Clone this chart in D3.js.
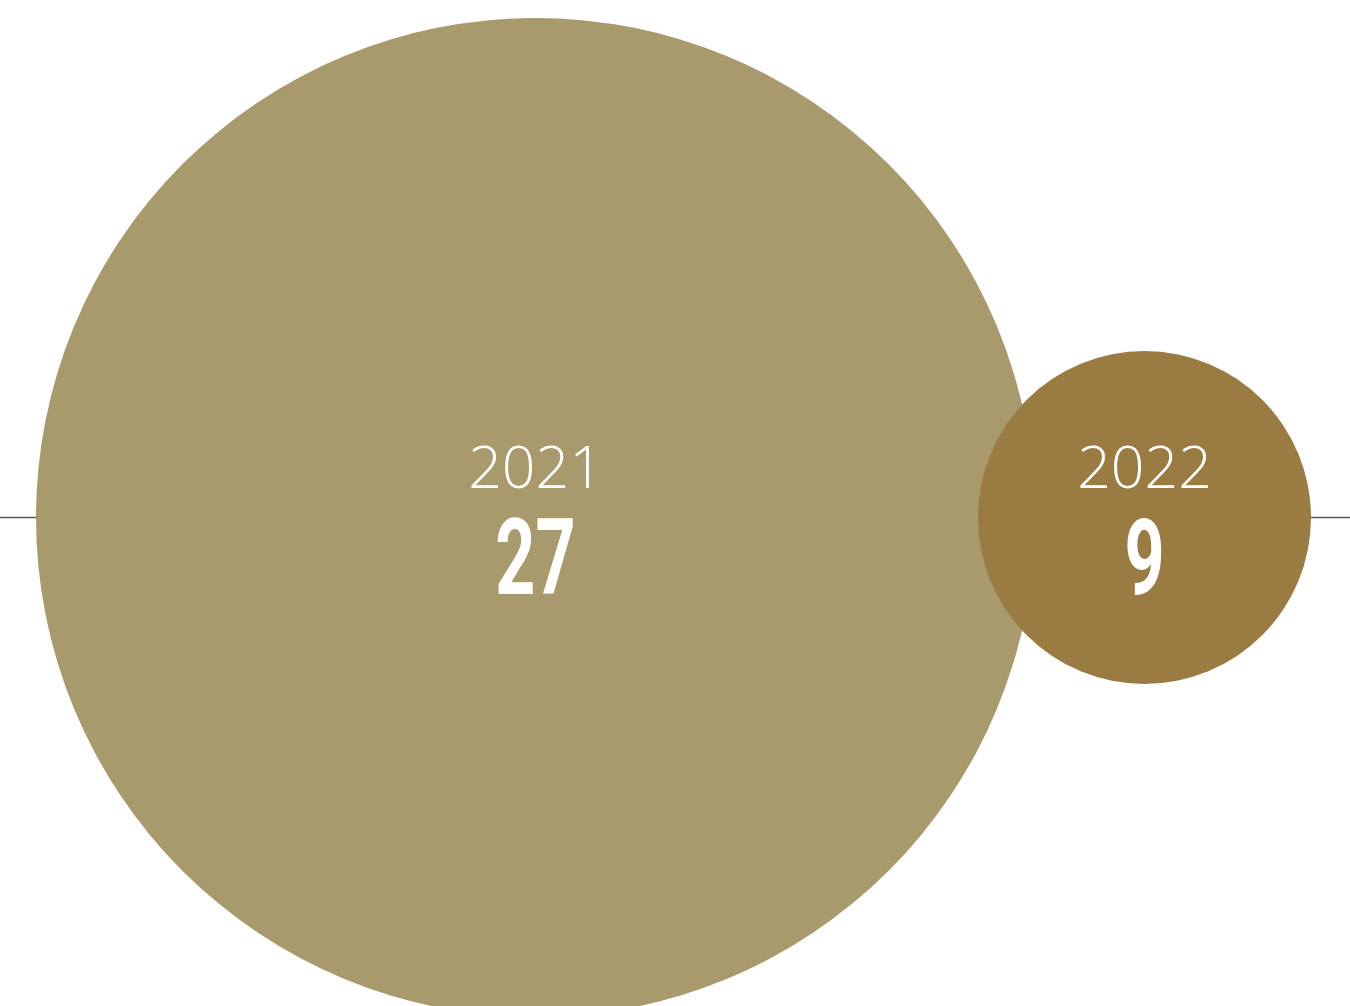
<!DOCTYPE html>
<html><head><meta charset="utf-8">
<script src="https://cdn.jsdelivr.net/npm/d3@7"></script>
<style>html,body{margin:0;padding:0;background:#fff;overflow:hidden}</style>
</head><body>
<svg id="chart" width="1350" height="1006"></svg>
<script>
const years = ["2021", "2022"];
const values = [27, 9];
const colors = ["#A99A6E", "#9A7B42"];

const W = 1350, H = 1006, cy = 517.5;
const svg = d3.select("#chart");
const r = d3.scaleLinear().domain([0, 27]).range([0, 499.5]);
const x = d3.scalePoint().domain(years).range([535.5, 1144.5]);

const data = years.map((y, i) => ({ year: y, value: values[i], color: colors[i] }));

svg.append("line").attr("x1", 0).attr("x2", W).attr("y1", cy).attr("y2", cy)
  .attr("stroke", "#555").attr("stroke-width", 1.4);

const g = svg.selectAll("g.bubble").data(data).join("g").attr("class", "bubble")
  .attr("transform", d => `translate(${x(d.year)},${cy})`);

g.append("circle").attr("r", d => r(d.value)).attr("fill", d => d.color);

g.append("text").text(d => d.year)
  .attr("text-anchor", "middle").attr("y", -29.5)
  .attr("fill", "#fff").attr("font-family", "'Open Sans', sans-serif")
  .attr("font-weight", 300).attr("font-size", 59);

g.append("text").text(d => d.value)
  .attr("text-anchor", "middle")
  .attr("transform", "translate(0,76.5) scale(0.66,1)")
  .attr("fill", "#fff").attr("font-family", "Roboto, sans-serif")
  .attr("font-weight", 700).attr("font-size", 106);
</script>
</body></html>
